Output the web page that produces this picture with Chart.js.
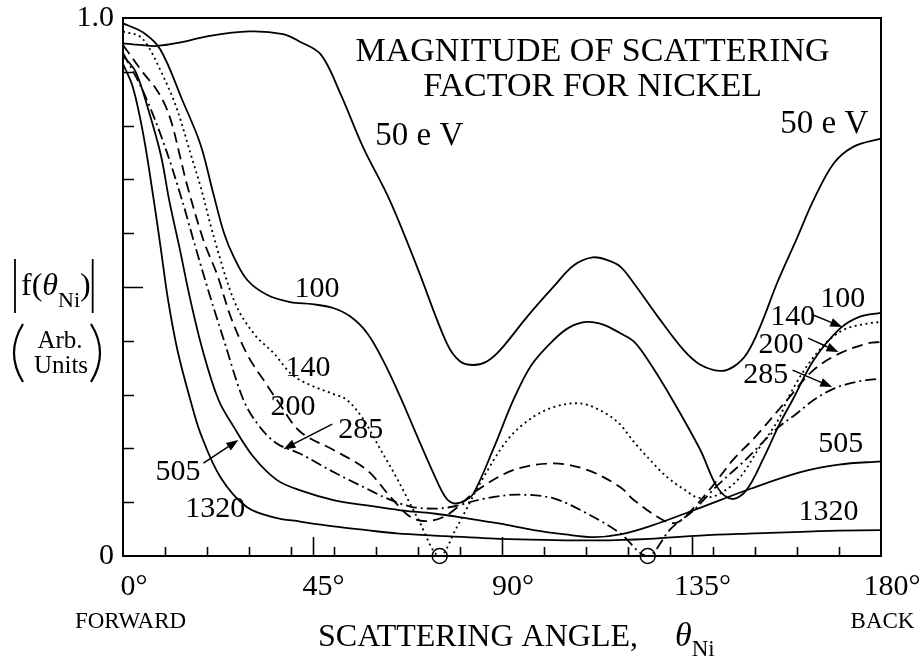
<!DOCTYPE html>
<html>
<head>
<meta charset="utf-8">
<title>Magnitude of scattering factor for nickel</title>
<script src="https://cdn.jsdelivr.net/npm/chart.js@4.4.1/dist/chart.umd.min.js"></script>
<style>
  html, body { margin: 0; padding: 0; background: #fff; }
  canvas { display: block; }
</style>
</head>
<body>
<canvas id="chart" width="923" height="663"></canvas>
<script>
// |f(theta)| for nickel, arbitrary units, vs. scattering angle in degrees.
const ANGLE_50 = [0,4,8,14,20,30,38,42,47,51.6,57,63.3,69.8,76.9,80,83.3,86.5,89.6,96,102.3,107,111.5,115,118.1,121.3,127,133.1,137,141.8,145,148.2,151.5,155.3,160,164,168.8,173.5,180];
const F_50     = [0.953,0.950,0.948,0.955,0.966,0.975,0.970,0.956,0.932,0.860,0.760,0.662,0.538,0.395,0.362,0.355,0.362,0.383,0.445,0.501,0.540,0.555,0.550,0.538,0.507,0.445,0.383,0.356,0.344,0.352,0.377,0.430,0.507,0.590,0.662,0.730,0.761,0.776];

const ANGLE_100 = [0,4.8,8.9,14,18.4,21.4,24,26.3,29.5,34.3,39.7,45,49.9,54,58,62,66,70,73.7,76.5,78.5,81,83.2,88,92.7,97,102.2,106,110.2,114,118.1,121.4,125,130.5,137.1,141.1,144.6,148,152,156,159,164,170.3,175,180];
const F_100     = [0.990,0.973,0.941,0.849,0.765,0.675,0.600,0.556,0.513,0.485,0.472,0.468,0.461,0.445,0.414,0.360,0.293,0.220,0.154,0.110,0.098,0.102,0.116,0.200,0.290,0.355,0.401,0.425,0.435,0.430,0.414,0.398,0.360,0.290,0.197,0.128,0.106,0.122,0.180,0.247,0.290,0.364,0.423,0.445,0.452];

const ANGLE_140 = [0,4.8,9.6,12.9,16,18.4,21.5,26.3,31,35.8,40,45,50,53.2,57,61,65,70,75.2,79.3,84.8,91.2,97.5,102,107.8,113,118,121,125,129,133,137,141,146.6,151,156,157.7,164,170.3,176.7,180];
const F_140     = [0.975,0.960,0.891,0.829,0.749,0.687,0.595,0.476,0.414,0.377,0.338,0.316,0.301,0.290,0.255,0.200,0.145,0.070,0.0,0.054,0.135,0.215,0.259,0.276,0.284,0.272,0.245,0.215,0.180,0.148,0.125,0.108,0.113,0.147,0.200,0.259,0.290,0.370,0.417,0.432,0.435];

const ANGLE_200 = [0,4.8,7.7,10,11.7,13.6,15.2,19.1,22.4,25.7,29.8,33.4,37,42.1,50,57.9,63.5,68.2,72.2,76.9,84.1,92.8,102.3,110.2,118.1,121.3,128.4,131.5,135,140,145,150,157.7,164,170.3,176.7,180];
const F_200     = [0.950,0.898,0.870,0.838,0.801,0.741,0.690,0.587,0.522,0.442,0.370,0.327,0.285,0.231,0.197,0.160,0.110,0.073,0.065,0.076,0.122,0.160,0.172,0.160,0.128,0.104,0.066,0.062,0.085,0.130,0.180,0.220,0.290,0.346,0.377,0.395,0.398];

const ANGLE_285 = [0,5,10,14,17,20,24,28.6,32,36,42.1,50,57.9,62.7,68.2,73.8,78.5,84.8,93.6,102.3,110.2,118.1,124.6,130,135.5,141,148,155,160,164,168.8,174.3,180];
const F_285     = [0.935,0.860,0.760,0.662,0.580,0.500,0.400,0.290,0.245,0.212,0.190,0.156,0.125,0.107,0.092,0.088,0.092,0.105,0.114,0.107,0.079,0.042,0.0,0.050,0.085,0.130,0.180,0.235,0.265,0.290,0.311,0.324,0.330];

const ANGLE_505 = [0,3,6,9,11,13.5,16,19,22.7,26.3,31,36.6,42.1,50,57.9,65.9,73.8,81.7,89.6,97.5,105,112,118.1,125,135.5,149,160.9,170,180];
const F_505     = [0.930,0.900,0.830,0.745,0.660,0.570,0.476,0.380,0.290,0.240,0.184,0.141,0.122,0.104,0.094,0.085,0.079,0.070,0.060,0.048,0.040,0.035,0.040,0.055,0.085,0.125,0.156,0.170,0.176];

const ANGLE_1320 = [0,2.4,4.9,7.3,9,10.7,13,16,18.4,23.1,29.4,35.8,42.1,50,57.9,65,73.8,89.6,100,113,125,137,150,161,170,180];
const F_1320     = [0.915,0.870,0.780,0.662,0.570,0.476,0.380,0.290,0.228,0.147,0.091,0.072,0.064,0.055,0.048,0.042,0.038,0.032,0.030,0.029,0.032,0.038,0.042,0.045,0.047,0.048];

// Angles where |f| vanishes (marked with open circles on the axis)
const ZERO_ANGLES = [75.2, 124.6];

// Axis ticks
const X_TICKS = [0,10,20,30,40,45,50,60,70,80,90,100,110,120,130,135,140,150,160,170,180];
const X_MAJOR = [45,90,135];
const X_LABELS = {0:'0°', 45:'45°', 90:'90°', 135:'135°', 180:'180°'};
const Y_TICKS = [0,0.1,0.2,0.3,0.4,0.5,0.6,0.7,0.8,0.9,1.0];
const Y_MAJOR = [0.5];
const Y_LABELS = {0:'0', 1:'1.0'};

const FONT = "'Liberation Serif','Times New Roman',Times,serif";

const pts = (a, f) => a.map((x, i) => ({x, y: f[i]}));

// Curves with a true zero keep monotone splines so they touch the axis without overshoot
const CURVES = [
  {label:'50 eV',   data: pts(ANGLE_50, F_50),     dash: [],            mono: false},
  {label:'100 eV',  data: pts(ANGLE_100, F_100),   dash: [],            mono: false},
  {label:'140 eV',  data: pts(ANGLE_140, F_140),   dash: [2, 3.5],      mono: true},
  {label:'200 eV',  data: pts(ANGLE_200, F_200),   dash: [11, 6],       mono: false},
  {label:'285 eV',  data: pts(ANGLE_285, F_285),   dash: [11, 4, 2, 4], mono: true},
  {label:'505 eV',  data: pts(ANGLE_505, F_505),   dash: [],            mono: false},
  {label:'1320 eV', data: pts(ANGLE_1320, F_1320), dash: [],            mono: false},
];

// Curve labels and titles placed in data units: [text, angle, value, px size, align]
const LABELS = [
  ['MAGNITUDE OF SCATTERING', 111.5, 0.9205, 34, 'center'],
  ['FACTOR FOR NICKEL',       111.5, 0.8555, 34, 'center'],
  ['50 e V', 59.9, 0.764, 33, 'left'],
  ['50 e V', 156.1, 0.7865, 33, 'left'],
  ['100', 40.7, 0.4814, 30, 'left'],
  ['140', 38.6, 0.3344, 30, 'left'],
  ['200', 35.0, 0.2618, 30, 'left'],
  ['285', 51.1, 0.2190, 30, 'left'],
  ['505', 7.7, 0.1409, 30, 'left'],
  ['1320', 14.8, 0.0720, 30, 'left'],
  ['100', 165.6, 0.4628, 30, 'left'],
  ['140', 153.7, 0.4293, 30, 'left'],
  ['200', 150.9, 0.3772, 30, 'left'],
  ['285', 147.3, 0.3214, 30, 'left'],
  ['505', 165.1, 0.1930, 30, 'left'],
  ['1320', 160.4, 0.0667, 30, 'left'],
];

// Leader arrows: [tail angle, tail value, tip angle, tip value]
const ARROWS = [
  [19.1, 0.1725, 27.4, 0.2154],
  [49.7, 0.2451, 38.1, 0.1986],
  [163.9, 0.4480, 170.8, 0.4257],
  [162.7, 0.4051, 169.9, 0.3790],
  [159.0, 0.3456, 168.4, 0.3139],
];

const framePlugin = {
  id: 'frameTicks',
  beforeDatasetsDraw(chart) {
    const {ctx, chartArea: a, scales: {x, y}} = chart;
    ctx.save();
    ctx.strokeStyle = '#000';
    ctx.lineWidth = 2;
    ctx.strokeRect(a.left, a.top, a.right - a.left, a.bottom - a.top);
    ctx.lineWidth = 1.6;
    ctx.beginPath();
    X_TICKS.forEach(v => {
      if (v === 0 || v === 180) return;
      const px = Math.round(x.getPixelForValue(v)) + 0.5;
      const len = X_MAJOR.includes(v) ? 19 : 9;
      ctx.moveTo(px, a.bottom);
      ctx.lineTo(px, a.bottom - len);
    });
    Y_TICKS.forEach(v => {
      if (v === 0 || v === 1) return;
      const py = Math.round(y.getPixelForValue(v)) + 0.5;
      const len = Y_MAJOR.includes(v) ? 20 : 11;
      ctx.moveTo(a.left, py);
      ctx.lineTo(a.left + len, py);
    });
    ctx.stroke();
    ctx.restore();
  }
};

const textPlugin = {
  id: 'annotations',
  afterDraw(chart) {
    const {ctx, scales: {x, y}} = chart;
    ctx.save();
    ctx.fillStyle = '#000';
    ctx.strokeStyle = '#000';
    ctx.textBaseline = 'alphabetic';

    LABELS.forEach(([t, a, v, size, align]) => {
      ctx.font = `${size}px ${FONT}`;
      ctx.textAlign = align;
      ctx.fillText(t, x.getPixelForValue(a), y.getPixelForValue(v));
    });

    ctx.lineWidth = 1.5;
    ARROWS.forEach(([a0, v0, a1, v1]) => {
      const x0 = x.getPixelForValue(a0), y0 = y.getPixelForValue(v0);
      const x1 = x.getPixelForValue(a1), y1 = y.getPixelForValue(v1);
      const ang = Math.atan2(y1 - y0, x1 - x0);
      const L = 12, W = 4.5;
      const bx = x1 - L * Math.cos(ang), by = y1 - L * Math.sin(ang);
      ctx.beginPath();
      ctx.moveTo(x0, y0);
      ctx.lineTo(bx, by);
      ctx.stroke();
      ctx.beginPath();
      ctx.moveTo(x1, y1);
      ctx.lineTo(bx + W * Math.sin(ang), by - W * Math.cos(ang));
      ctx.lineTo(bx - W * Math.sin(ang), by + W * Math.cos(ang));
      ctx.closePath();
      ctx.fill();
    });

    // y-axis quantity: |f(θNi)| over (Arb. Units)
    ctx.textAlign = 'left';
    let cx = 21;
    ctx.font = `32px ${FONT}`;
    ctx.fillText('f(', cx, 295); cx += ctx.measureText('f(').width;
    ctx.font = `italic 32px ${FONT}`;
    ctx.fillText('θ', cx, 295); cx += ctx.measureText('θ').width;
    ctx.font = `22px ${FONT}`;
    ctx.fillText('Ni', cx, 307); cx += ctx.measureText('Ni').width;
    ctx.font = `32px ${FONT}`;
    ctx.fillText(')', cx, 295); cx += ctx.measureText(')').width;
    ctx.lineWidth = 1.8;
    ctx.beginPath();
    ctx.moveTo(15, 259); ctx.lineTo(15, 313);
    ctx.moveTo(cx + 2, 259); ctx.lineTo(cx + 2, 313);
    ctx.stroke();

    ctx.font = `25px ${FONT}`;
    ctx.textAlign = 'center';
    ctx.fillText('Arb.', 60, 348);
    ctx.fillText('Units', 61, 373);
    ctx.lineWidth = 2.2;
    ctx.beginPath();
    ctx.moveTo(23, 324); ctx.quadraticCurveTo(5, 353, 23, 382);
    ctx.moveTo(91, 324); ctx.quadraticCurveTo(109, 353, 91, 382);
    ctx.stroke();

    // x-axis title and end notes
    ctx.font = `23px ${FONT}`;
    ctx.fillText('FORWARD', 130.5, 628);
    ctx.fillText('BACK', 882.5, 628);
    ctx.textAlign = 'left';
    ctx.font = `32px ${FONT}`;
    ctx.fillText('SCATTERING ANGLE,', 318, 646);
    ctx.font = `italic 34px ${FONT}`;
    ctx.fillText('θ', 675, 646);
    const tw = ctx.measureText('θ').width;
    ctx.font = `23px ${FONT}`;
    ctx.fillText('Ni', 675 + tw, 656);
    ctx.restore();
  }
};

const datasets = CURVES.map(c => ({
  label: c.label,
  data: c.data,
  borderColor: '#000',
  borderWidth: 1.8,
  borderDash: c.dash,
  pointRadius: 0,
  fill: false,
  cubicInterpolationMode: c.mono ? 'monotone' : 'default',
  tension: 0.35,
  clip: 4,
}));
datasets.push({
  label: 'zeros',
  data: ZERO_ANGLES.map(a => ({x: a, y: 0})),
  showLine: false,
  pointRadius: 7.5,
  pointBorderWidth: 1.5,
  pointBorderColor: '#000',
  pointBackgroundColor: 'rgba(0,0,0,0)',
  clip: false,
});

new Chart(document.getElementById('chart'), {
  type: 'line',
  data: {datasets},
  options: {
    responsive: false,
    devicePixelRatio: 1,
    animation: false,
    layout: {padding: {top: 18, right: 42, left: 0, bottom: 0}},
    plugins: {legend: {display: false}, tooltip: {enabled: false}},
    scales: {
      x: {
        type: 'linear', min: 0, max: 180,
        afterBuildTicks: s => { s.ticks = X_TICKS.map(v => ({value: v})); },
        afterFit: s => { s.height = 107; s.paddingLeft = 0; s.paddingRight = 0; },
        grid: {display: false, drawTicks: false},
        border: {display: false},
        ticks: {
          autoSkip: false, maxRotation: 0, padding: 13, labelOffset: 11,
          color: '#000', font: {family: FONT, size: 30},
          callback: v => X_LABELS[v] ?? '',
        },
      },
      y: {
        type: 'linear', min: 0, max: 1,
        afterBuildTicks: s => { s.ticks = Y_TICKS.map(v => ({value: v})); },
        afterFit: s => { s.width = 123; s.paddingTop = 0; s.paddingBottom = 0; },
        grid: {display: false, drawTicks: false},
        border: {display: false},
        ticks: {
          autoSkip: false, padding: 9,
          color: '#000', font: {family: FONT, size: 30},
          callback: v => Y_LABELS[v] ?? '',
        },
      },
    },
  },
  plugins: [framePlugin, textPlugin],
});
</script>
</body>
</html>
